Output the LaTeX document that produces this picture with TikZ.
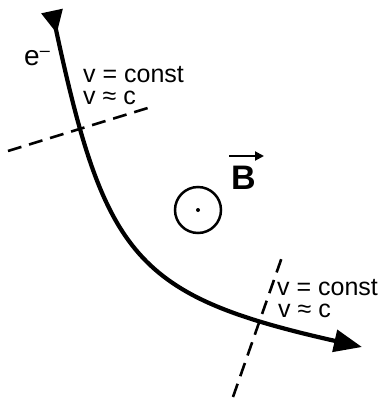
\documentclass[tikz,border=0pt]{standalone}
\usepackage{fontspec}
\setmainfont{Liberation Sans}
\usetikzlibrary{arrows.meta,positioning,calc}

\begin{document}
\begin{tikzpicture}[
    x=1pt, y=-1pt,
    track/.style={line width=4.2pt, {Triangle[reversed, length=23pt, width=21pt]}-{Triangle[length=28pt, width=22pt]}},
    cutline/.style={line width=2.6pt, dash pattern=on 14pt off 8pt},
    lbl/.style={inner sep=0pt, anchor=base west, text height=13pt, text depth=0pt, font=\fontsize{25}{30}\selectfont},
    fieldring/.style={circle, draw, line width=2.5pt, minimum size=46pt, inner sep=0pt},
    vecarrow/.style={line width=2pt, -{Triangle[length=9pt, width=9pt]}}
]
  \useasboundingbox (0,0) rectangle (381,400);

  % electron track
  \coordinate (start) at (52,11);
  \coordinate (ctrlA) at (105,258);
  \coordinate (ctrlB) at (136,296);
  \coordinate (end) at (362,347);
  \draw[track] (start) .. controls (ctrlA) and (ctrlB) .. (end);

  % cuts across the track
  \coordinate (cutAin) at (8,151);
  \coordinate (cutAout) at (151,107);
  \coordinate (cutBin) at (233,397);
  \coordinate (cutBout) at (282,257);
  \draw[cutline] (cutAin) -- (cutAout);
  \draw[cutline] (cutBin) -- (cutBout);

  \node[lbl] (vconstA) at (83,82) {v = const};
  \node[lbl] (vcA) at (83,104) {v ≈ c};
  \node[lbl] (vconstB) at (277,295) {v = const};
  \node[lbl] (vcB) at (278,317) {v ≈ c};
  \node[lbl, font=\fontsize{28}{30}\selectfont] (elec) at (24,65) {e\raisebox{8.5pt}{\fontsize{18}{18}\selectfont –}};

  % field out of the page
  \node[fieldring] (ring) at (198,210) {};
  \fill (ring.center) circle (2pt);
  \node[lbl, text height=, font=\fontsize{34}{36}\selectfont\bfseries] (bvec) at (231,189) {B};
  \coordinate (arrA) at (229,156);
  \coordinate (arrB) at (264,156);
  \draw[vecarrow] (arrA) -- (arrB);
\end{tikzpicture}
\end{document}
